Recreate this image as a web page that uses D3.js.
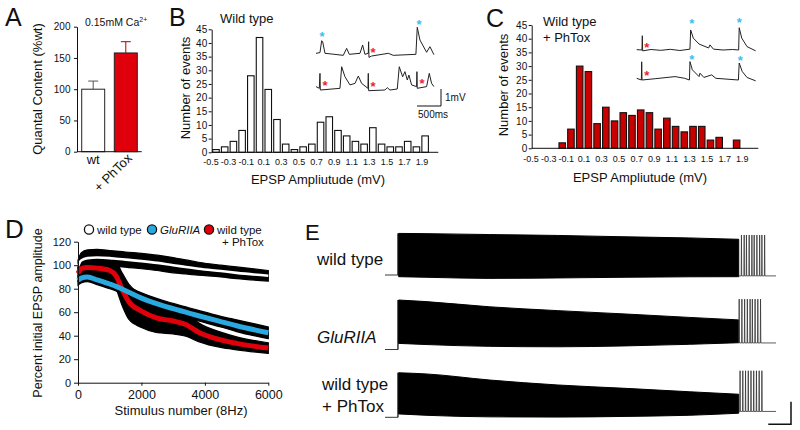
<!DOCTYPE html>
<html><head><meta charset="utf-8">
<script src="https://cdn.jsdelivr.net/npm/d3@7"></script>
<style>
html,body{margin:0;padding:0;background:#fff;}
svg text{font-family:"Liberation Sans",Arial,Helvetica,sans-serif;fill:#111;}
</style></head>
<body><svg id="c" width="800" height="430"></svg>
<script>
// ---------------- DATA ----------------
// Panel A
const aGroups = ["wt", "+ PhTox"];
const aValues = [100, 158];
const aSem = [13, 18];
const aTicks = [0, 50, 100, 150, 200];
// Panels B & C histograms (bins of EPSP amplitude, mV)
const histBins = [-0.5,-0.4,-0.3,-0.2,-0.1,0.0,0.1,0.2,0.3,0.4,0.5,0.6,0.7,0.8,0.9,1.0,1.1,1.2,1.3,1.4,1.5,1.6,1.7,1.8,1.9];
const wtCounts = [1,2,4,8,28,42,23,12,3,1,2,3,11,13,8,6,4,3,9,3,2,2,4,2,6];
const phCounts = [0,0,0,2,7,30,28,9,15,10,13,12,14,13,7,11,8,6,8,8,3,4,0,3,0];
const histTickLabels = [-0.5,-0.3,-0.1,0.1,0.3,0.5,0.7,0.9,1.1,1.3,1.5,1.7,1.9];
const histYTicks = [0,5,10,15,20,25,30,35,40,45];
// Inset traces (time ms, mV)
const bTrace1 = [[0,0.1],[83,0.14],[118,0.84],[139,0.78],[187,0.1],[350,0.05],[569,-0.02],[639,0.39],[694,0.04],[917,0.1],[972,0.59],[1020,0.04],[1090,0.1],[1097,0.78],[1104,-0.14],[1160,-0.06],[1400,0.05],[1507,0.1],[1611,-0.02],[2083,0.04],[2111,1.63],[2167,0.88],[2306,0.16],[2375,0.49],[2458,0.02]];
const bTrace2 = [[0,0.14],[69,0.04],[83,0.92],[90,-0.06],[500,0.04],[535,1.31],[604,0.72],[708,0.24],[813,0.33],[882,0.76],[952,0.33],[1083,0.04],[1090,0.92],[1097,-0.1],[1437,-0.06],[1486,0.08],[1542,-0.06],[1694,0.0],[1736,1.31],[1806,0.72],[1854,1.02],[1903,0.53],[1937,0.82],[1993,0.24],[2097,0.14],[2104,1.02],[2111,0.04],[2306,0.14],[2361,0.92],[2410,0.33],[2458,0.14]];
const cTrace1 = [[0,0.02],[110,0.0],[117,0.84],[124,-0.05],[300,0.03],[500,-0.02],[700,0.04],[900,-0.03],[1110,0.05],[1125,1.18],[1180,0.7],[1300,0.35],[1500,0.12],[1527,0.3],[1600,0.05],[1800,0.0],[2000,0.03],[2125,0.0],[2137,1.31],[2190,0.7],[2300,0.2],[2480,-0.05]];
const cTrace2 = [[0,0.1],[97,0.0],[104,1.07],[111,0.0],[400,0.08],[800,0.2],[1000,0.1],[1100,0.0],[1110,1.08],[1160,0.6],[1300,0.2],[1319,0.4],[1400,0.15],[1562,0.3],[1650,0.1],[2120,0.0],[2137,1.0],[2200,0.5],[2300,0.15],[2480,-0.05]];
const bStars = [[0,125,1.18,"b"],[0,2146,1.94,"b"],[0,1188,0.24,"r"],[1,188,0.35,"r"],[1,1188,0.29,"r"],[1,2208,0.47,"r"]];
const cStars = [[0,208,0.25,"r"],[0,1146,1.66,"b"],[0,2137,1.71,"b"],[1,208,0.39,"r"],[1,1146,1.31,"b"],[1,2160,1.24,"b"]];
// Panel D
const dStim = [0,100,300,600,1000,1200,1400,1600,2000,2500,3000,3400,3800,4500,5000,6000];
const dWtMean = [99,104,106,106.5,106,105.5,105,104.5,103.5,102,100,98.5,97,95,93.5,91];
const dWtSem = [5,6.5,7,7,6.5,6.5,6.5,6.5,6.5,6.5,6.5,6,5.5,5,5,4.5];
const dGluMean = [87,89,90,87.5,84,82,79.5,77,72,67,63,60,57,52,48.5,42.5];
const dGluSem = [4,4,4,4,4,4,4.5,4.5,4.5,4.5,4.5,4.5,4.5,4.5,5,5];
const dPhMean = [93,97,98,97.5,95.5,91,79,69,61,55,52.5,49.5,43,36.5,33.5,29.5];
const dPhSem = [6,7,7,7,7,11,14,15,14,12.5,11,10,8,6.5,5.5,4.5];
const dYTicks = [0,20,40,60,80,100,120];
const dXTicks = [0,2000,4000,6000];
// Panel E (time s, mV)
const eTimes = [0,60,200,350,500,640,748];
const eWtTop = [18.4,18.3,17.9,17.5,16.9,16.4,15.8];
const eWtBot = [-0.75,-1.0,-1.5,-1.3,-1.0,-0.8,-0.75];
const eGluTop = [21.9,21.2,18.9,17.2,15.7,14.2,13.1];
const eGluBot = [2.7,2.2,1.4,1.2,1.6,2.3,3.0];
const ePhTop = [19.7,19.2,16.5,14.3,12.8,11.3,10.2];
const ePhBot = [1.5,0.9,0.2,0.1,0.4,0.9,1.8];
const eWtSpikes = [754,760,765,771,777,782,788,794,799,805];
const eGluSpikes = [749,755,761,767,773,778,784,790,796];
const ePhSpikes = [751,757,763,769,775,781,787,793,799];
const eSpikePeak = [17.7, 22.3, 20.6];
const eSpikeBase = [-0.4, 2.9, 2.6];
const eLabels = [["wild type"],["GluRIIA"],["wild type","+ PhTox"]];

// ---------------- DRAW ----------------
const svg = d3.select("#c");
svg.append("rect").attr("width",800).attr("height",430).attr("fill","#fff");
const RED = "#e0000c", DRED = "#c80000", BLUE = "#2aa9e0", SBLUE = "#3cc0f0", SRED = "#ee2233";

function panelLetter(t,x,y,s){svg.append("text").attr("x",x).attr("y",y).attr("font-size",s).text(t);}
function styleAxis(g,fs){g.attr("font-size",fs).attr("font-family","Liberation Sans, Arial, sans-serif");g.selectAll("path,line").attr("stroke","#111");g.selectAll("text").attr("fill","#111");}

// ===== Panel A =====
panelLetter("A",5,26,25);
const yA = d3.scaleLinear().domain([0,200]).range([151.7,26.7]);
const xA = d3.scaleBand().domain(aGroups).range([77.8,141.2]).paddingInner(0.295).paddingOuter(0.12);
const gA = svg.append("g");
gA.selectAll("rect.bar").data(aGroups).enter().append("rect")
  .attr("x",d=>xA(d)).attr("width",xA.bandwidth())
  .attr("y",(d,i)=>yA(aValues[i])).attr("height",(d,i)=>yA(0)-yA(aValues[i]))
  .attr("fill",(d,i)=>i?RED:"#fff").attr("stroke","#222").attr("stroke-width",1);
aGroups.forEach((d,i)=>{
  const cx = xA(d)+xA.bandwidth()/2, col = i?"#b00000":"#555";
  gA.append("line").attr("x1",cx).attr("x2",cx).attr("y1",yA(aValues[i])).attr("y2",yA(aValues[i]+aSem[i])).attr("stroke",col).attr("stroke-width",1);
  gA.append("line").attr("x1",cx-5).attr("x2",cx+5).attr("y1",yA(aValues[i]+aSem[i])).attr("y2",yA(aValues[i]+aSem[i])).attr("stroke",col).attr("stroke-width",1);
});
const axA = svg.append("g").attr("transform","translate(77,0)").call(d3.axisLeft(yA).tickValues(aTicks).tickSize(3).tickPadding(3.5).tickSizeOuter(0));
styleAxis(axA,10);
svg.append("line").attr("x1",77).attr("x2",141.7).attr("y1",yA(0)).attr("y2",yA(0)).attr("stroke","#111");
svg.append("text").attr("x",xA("wt")+xA.bandwidth()/2).attr("y",163.5).attr("text-anchor","middle").attr("font-size",13).text("wt");
svg.append("text").attr("transform",`translate(${xA("+ PhTox")+xA.bandwidth()/2+7},159) rotate(-45)`).attr("text-anchor","end").attr("font-size",13).text("+ PhTox");
svg.append("text").attr("transform","translate(41.5,89) rotate(-90)").attr("text-anchor","middle").attr("font-size",13).text("Quantal Content (%wt)");
const caT = svg.append("text").attr("x",85).attr("y",25.5).attr("font-size",10.5);
caT.append("tspan").text("0.15mM Ca");
caT.append("tspan").attr("font-size",7).attr("dy",-4).text("2+");

// ===== Histograms =====
function histogram(counts, cfg){
  const y = d3.scaleLinear().domain([0,45]).range([cfg.y0,cfg.y45]);
  const x = d3.scaleBand().domain(histBins).range([cfg.bx0,cfg.bx1]).paddingInner(0.25).paddingOuter(0);
  const g = svg.append("g");
  g.selectAll("rect").data(histBins.filter((b,i)=>counts[i]>0)).enter().append("rect")
    .attr("x",b=>x(b)).attr("width",x.bandwidth())
    .attr("y",b=>y(counts[histBins.indexOf(b)])).attr("height",b=>y(0)-y(counts[histBins.indexOf(b)]))
    .attr("fill",cfg.fill).attr("stroke","#111").attr("stroke-width",1.1);
  const ax = svg.append("g").attr("transform",`translate(${cfg.ax},0)`).call(d3.axisLeft(y).tickValues(histYTicks).tickSize(3).tickPadding(1.5).tickSizeOuter(0));
  styleAxis(ax,10);
  svg.append("line").attr("x1",cfg.ax).attr("x2",cfg.axEnd).attr("y1",y(0)).attr("y2",y(0)).attr("stroke","#111");
  const bw = x.bandwidth()/2;
  const xl = d3.scaleLinear().domain([-0.5,1.9]).range([x(-0.5)+bw-5, x(1.9)+bw-3]);
  svg.append("g").selectAll("text").data(histTickLabels).enter().append("text")
    .attr("x",d=>xl(d)).attr("y",cfg.labY).attr("text-anchor","middle").attr("font-size",9)
    .text(d=>d3.format(".1f")(d).replace("−","-"));
  svg.append("text").attr("x",cfg.xtX).attr("y",cfg.xtY).attr("text-anchor","middle").attr("font-size",13).text("EPSP Ampliutude (mV)");
  svg.append("text").attr("transform",`translate(${cfg.ytX},${cfg.ytY}) rotate(-90)`).attr("text-anchor","middle").attr("font-size",13).text("Number of events");
}
panelLetter("B",169,26,25);
histogram(wtCounts,{y0:152.3,y45:29.3,bx0:212.7,bx1:428.4,ax:211.7,axEnd:438.3,fill:"#fff",labY:165,xtX:318,xtY:184,ytX:189.5,ytY:88});
svg.append("text").attr("x",220).attr("y",23).attr("font-size",13).text("Wild type");
panelLetter("C",486,27,25);
histogram(phCounts,{y0:148.3,y45:25,bx0:532.8,bx1:748.6,ax:531.7,axEnd:758.3,fill:DRED,labY:161.5,xtX:640,xtY:182,ytX:507.5,ytY:85});
svg.append("text").attr("x",543).attr("y",26).attr("font-size",13).text("Wild type");
svg.append("text").attr("x",543).attr("y",41.5).attr("font-size",13).text("+ PhTox");

// ===== Insets =====
function inset(traces, stars, cfg){
  const t = d3.scaleLinear().domain([0,2460]).range([cfg.x0,cfg.x0+118]);
  const vs = cfg.bases.map(b=>d3.scaleLinear().domain([0,1]).range([b,b-17]));
  traces.forEach((tr,i)=>{
    svg.append("path").attr("d",d3.line().x(d=>t(d[0])).y(d=>vs[i](d[1]))(tr))
      .attr("fill","none").attr("stroke","#222").attr("stroke-width",1);
  });
  stars.forEach(s=>{
    svg.append("text").attr("x",t(s[1])).attr("y",vs[s[0]](s[2])+6.5).attr("text-anchor","middle")
      .attr("font-size",13).attr("font-weight","bold").style("fill",s[3]==="b"?SBLUE:SRED).text("*");
  });
  return t;
}
const tB = inset([bTrace1,bTrace2],bStars,{x0:316,bases:[55,89]});
{
  const y1 = 106, x1 = 441, len = tB(500)-tB(0);
  svg.append("path").attr("d",`M${x1-len},${y1}H${x1}V${y1-17}`).attr("fill","none").attr("stroke","#111").attr("stroke-width",1);
  svg.append("text").attr("x",x1+4).attr("y",101).attr("font-size",10).text("1mV");
  svg.append("text").attr("x",x1-len+1).attr("y",118).attr("font-size",10).text("500ms");
}
inset([cTrace1,cTrace2],cStars,{x0:636.7,bases:[50,80]});

// ===== Panel D =====
panelLetter("D",5,238,26);
const xD = d3.scaleLinear().domain([0,6000]).range([78,268.3]);
const yD = d3.scaleLinear().domain([0,120]).range([382.7,241.7]);
const band = (m,s)=>d3.area().x((d,i)=>xD(dStim[i])).y0((d,i)=>yD(m[i]-s[i])).y1((d,i)=>yD(m[i]+s[i])).curve(d3.curveMonotoneX)(dStim);
const mline = m=>d3.line().x((d,i)=>xD(dStim[i])).y((d,i)=>yD(m[i])).curve(d3.curveMonotoneX)(dStim);
const gD = svg.append("g");
gD.append("path").attr("d",band(dWtMean,dWtSem)).attr("fill","#000").attr("stroke","#000").attr("stroke-width",1.2);
gD.append("path").attr("d",band(dPhMean,dPhSem)).attr("fill","#000").attr("stroke","#000").attr("stroke-width",1.2);
gD.append("path").attr("d",band(dGluMean,dGluSem)).attr("fill","#000").attr("stroke","#000").attr("stroke-width",1.2);
gD.append("path").attr("d",mline(dWtMean)).attr("fill","none").attr("stroke","#fff").attr("stroke-width",2.6);
gD.append("path").attr("d",mline(dPhMean)).attr("fill","none").attr("stroke",RED).attr("stroke-width",5);
gD.append("path").attr("d",mline(dGluMean)).attr("fill","none").attr("stroke",BLUE).attr("stroke-width",5);
const axDy = svg.append("g").attr("transform","translate(78,0)").call(d3.axisLeft(yD).tickValues(dYTicks).tickSize(4).tickPadding(3).tickSizeOuter(0));
styleAxis(axDy,11);
const axDx = svg.append("g").attr("transform","translate(0,382.7)").call(d3.axisBottom(xD).tickValues(dXTicks).tickFormat(d3.format("d")).tickSize(3).tickPadding(4).tickSizeOuter(0));
styleAxis(axDx,12.5);
svg.append("text").attr("x",181).attr("y",415).attr("text-anchor","middle").attr("font-size",13).text("Stimulus number (8Hz)");
svg.append("text").attr("transform","translate(41.5,313) rotate(-90)").attr("text-anchor","middle").attr("font-size",12.5).text("Percent initial EPSP amplitude");
const leg = [[89,"#fff","wild type",false],[152,BLUE,"GluRIIA",true],[209,RED,"wild type",false]];
leg.forEach(l=>{
  svg.append("circle").attr("cx",l[0]).attr("cy",229.5).attr("r",4.6).attr("fill",l[1]).attr("stroke","#111").attr("stroke-width",1.3);
  svg.append("text").attr("x",l[0]+8).attr("y",233.5).attr("font-size",11.5).attr("font-style",l[3]?"italic":"normal").text(l[2]);
});
svg.append("text").attr("x",222).attr("y",245.5).attr("font-size",11.5).text("+ PhTox");

// ===== Panel E =====
panelLetter("E",305,240,22);
const xE = d3.scaleLinear().domain([-30,830]).range([385,776]);
const eRows = [
  {base:275, top:eWtTop, bot:eWtBot, spikes:eWtSpikes},
  {base:349.5, top:eGluTop, bot:eGluBot, spikes:eGluSpikes},
  {base:417.3, top:ePhTop, bot:ePhBot, spikes:ePhSpikes}
];
eRows.forEach((r,k)=>{
  const y = d3.scaleLinear().domain([0,10]).range([r.base, r.base-22.6]);
  const g = svg.append("g");
  g.append("path").attr("d",d3.line().x(d=>xE(d[0])).y(d=>y(d[1]))([[-30,0],[-1.5,0],[-1.5,r.top[0]],[-1.5,0]]))
    .attr("fill","none").attr("stroke","#222").attr("stroke-width",0.9);
  g.append("path").attr("d",d3.area().x((d,i)=>xE(eTimes[i])).y0((d,i)=>y(r.bot[i])).y1((d,i)=>y(r.top[i])).curve(d3.curveMonotoneX)(eTimes))
    .attr("fill","#000").attr("stroke","#000").attr("stroke-width",1);
  const pts = [[eTimes[eTimes.length-1], eSpikeBase[k]]];
  r.spikes.forEach(s=>{pts.push([s-0.6,eSpikeBase[k]],[s,eSpikePeak[k]],[s+0.6,eSpikeBase[k]]);});
  pts.push([830,eSpikeBase[k]]);
  g.append("path").attr("d",d3.line().x(d=>xE(d[0])).y(d=>y(d[1]))(pts))
    .attr("fill","none").attr("stroke","#333").attr("stroke-width",0.8);
});
svg.append("text").attr("x",317).attr("y",265).attr("font-size",17).text(eLabels[0][0]);
svg.append("text").attr("x",317).attr("y",343).attr("font-size",17).attr("font-style","italic").text(eLabels[1][0]);
svg.append("text").attr("x",322).attr("y",390).attr("font-size",17).text(eLabels[2][0]);
svg.append("text").attr("x",322).attr("y",412).attr("font-size",17).text(eLabels[2][1]);
{
  const xr = 791, yb = 424.3, len = xE(50)-xE(0), h = 22.6;
  svg.append("path").attr("d",`M${xr-len},${yb}H${xr}V${yb-h}`).attr("fill","none").attr("stroke","#111").attr("stroke-width",1.5);
}
</script></body></html>
